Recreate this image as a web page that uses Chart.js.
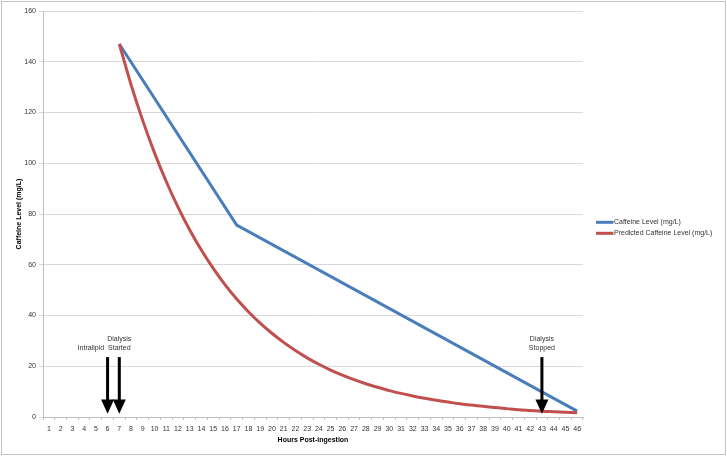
<!DOCTYPE html>
<html>
<head>
<meta charset="utf-8">
<script src="https://cdn.jsdelivr.net/npm/chart.js@4/dist/chart.umd.min.js"></script>
<style>
html,body{margin:0;padding:0;background:#fff;}
#wrap{width:727px;height:456px;position:relative;}
</style>
</head>
<body>
<div id="wrap"><canvas id="c" width="727" height="456"></canvas></div>
<script>
// ---- data ----
const hours = ['1','2','3','4','5','6','7','8','9','10','11','12','13','14','15','16','17','18','19','20',
  '21','22','23','24','25','26','27','28','29','30','31','32','33','34','35','36','37','38','39','40',
  '41','42','43','44','45','46'];

const caffeineLevel = [null,null,null,null,null,null,147,null,null,null,
  null,null,null,null,null,null,75.6,null,null,null,
  null,null,null,null,null,null,null,null,null,null,
  null,null,null,null,null,null,null,null,null,null,
  null,null,null,null,null,2.3];

const predictedLevel = [null,null,null,null,null,null,147,131.0,116.8,104.1,
  92.8,82.7,73.7,65.7,58.6,52.2,46.5,41.5,37.0,33.0,
  29.4,26.2,23.3,20.8,18.5,16.5,14.7,13.1,11.7,10.4,
  9.3,8.3,7.4,6.6,5.9,5.2,4.7,4.2,3.7,3.3,
  2.9,2.6,2.3,2.1,1.9,1.7];

const yTicks = [0,20,40,60,80,100,120,140,160];

const eventHours = ['6','7','43'];
const eventLabels = [['Intralipid'], ['Dialysis','Started'], ['Dialysis','Stopped']];

const seriesNames = ['Caffeine Level (mg/L)', 'Predicted Caffeine Level (mg/L)'];
const axisTitles = {x: 'Hours Post-ingestion', y: 'Caffeine Level (mg/L)'};

// ---- style ----
const FONT = '"Liberation Sans", Arial, sans-serif';
const BLUE = '#4a7ebb';
const RED = '#c0504d';
const eventTextAlign = ['right','center','center'];

Chart.defaults.font.family = FONT;
Chart.defaults.font.size = 7;
Chart.defaults.color = '#333';

const overlay = {
  id: 'overlay',
  afterDatasetsDraw(chart) {
    const {ctx, scales: {x, y}} = chart;
    ctx.save();
    const topY = y.getPixelForValue(23.6);
    const headY = y.getPixelForValue(6.9);
    const tipY = y.getPixelForValue(1.3);
    eventHours.forEach((h, i) => {
      const px = x.getPixelForValue(hours.indexOf(h));
      ctx.fillStyle = '#000';
      ctx.fillRect(px - 1.5, topY, 3, headY - topY + 1);
      ctx.beginPath();
      ctx.moveTo(px - 6.5, headY);
      ctx.lineTo(px + 6.5, headY);
      ctx.lineTo(px, tipY);
      ctx.closePath();
      ctx.fill();
      ctx.font = '7px ' + FONT;
      ctx.fillStyle = '#333';
      ctx.textBaseline = 'middle';
      const align = eventTextAlign[i];
      ctx.textAlign = align;
      const tx = align === 'right' ? px - 3.5 : px;
      const lines = eventLabels[i];
      lines.forEach((ln, j) => {
        const ty = topY - 9 - (lines.length - 1 - j) * 8.6;
        ctx.fillText(ln, tx, ty);
      });
    });
    ctx.restore();
  },
  afterDraw(chart) {
    const {ctx, chartArea} = chart;
    ctx.save();
    const cy = (chartArea.top + chartArea.bottom) / 2 + 8.3;
    ctx.font = '7px ' + FONT;
    ctx.textBaseline = 'middle';
    ctx.textAlign = 'left';
    chart.data.datasets.forEach((ds, i) => {
      const yy = cy + i * 11;
      ctx.strokeStyle = ds.borderColor;
      ctx.lineWidth = 3;
      ctx.beginPath();
      ctx.moveTo(chartArea.right + 13, yy);
      ctx.lineTo(chartArea.right + 30.5, yy);
      ctx.stroke();
      ctx.fillStyle = '#333';
      ctx.fillText(ds.label, chartArea.right + 31, yy);
    });
    ctx.strokeStyle = '#c4c4c4';
    ctx.lineWidth = 1;
    ctx.strokeRect(1.5, 1.5, 724, 453);
    ctx.restore();
  }
};

new Chart(document.getElementById('c'), {
  type: 'line',
  data: {
    labels: hours,
    datasets: [
      {label: seriesNames[0], data: caffeineLevel, borderColor: BLUE, backgroundColor: BLUE,
       borderWidth: 3, pointRadius: 0, spanGaps: true, tension: 0, order: 1},
      {label: seriesNames[1], data: predictedLevel, borderColor: RED, backgroundColor: RED,
       borderWidth: 3, pointRadius: 0, spanGaps: true, cubicInterpolationMode: 'monotone', order: 0}
    ]
  },
  options: {
    responsive: false,
    animation: false,
    devicePixelRatio: 1,
    layout: {padding: {top: 11, right: 144, bottom: 0, left: 0}},
    plugins: {legend: {display: false}, tooltip: {enabled: false}},
    scales: {
      x: {
        type: 'category',
        offset: true,
        grid: {drawOnChartArea: false, drawTicks: true, tickLength: 3, color: '#bfbfbf', offset: true},
        border: {color: '#bfbfbf', width: 1},
        ticks: {autoSkip: false, maxRotation: 0, padding: 5, color: '#333', font: {size: 7}},
        title: {display: true, text: axisTitles.x, font: {size: 7, weight: 'bold'}, color: '#000', padding: {top: 0, bottom: 12}},
        afterFit(s) { s.height = 39; }
      },
      y: {
        min: yTicks[0],
        max: yTicks[yTicks.length - 1],
        ticks: {stepSize: yTicks[1] - yTicks[0], padding: 3, color: '#333', font: {size: 7}},
        grid: {color: '#d9d9d9', tickLength: 4, drawTicks: true},
        border: {color: '#bfbfbf', width: 1},
        title: {display: true, text: axisTitles.y, font: {size: 7, weight: 'bold'}, color: '#000', padding: {top: 15, bottom: 0}},
        afterFit(s) { s.width = 43; }
      }
    }
  },
  plugins: [overlay]
});
</script>
</body>
</html>
